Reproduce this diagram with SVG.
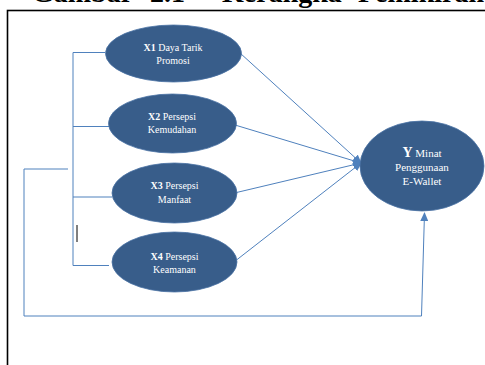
<svg xmlns="http://www.w3.org/2000/svg" width="485" height="365" viewBox="0 0 485 365">
<style>
.node{fill:#385D8A;stroke:#4A72A4;stroke-width:0.8}
.lbl{font-family:"Liberation Serif","Times New Roman",serif;font-size:10px;fill:#ffffff;text-anchor:middle}
.ylbl{font-family:"Liberation Serif","Times New Roman",serif;font-size:11px;fill:#ffffff;text-anchor:middle}
.b{font-weight:bold}
.conn{fill:none;stroke:#4F81BD;stroke-width:1}
.title{font-family:"Liberation Serif","Times New Roman",serif;font-size:28px;font-weight:bold;fill:#000000}
</style>
<defs>
<marker id="arr" markerWidth="9" markerHeight="8" refX="8" refY="4" orient="auto" markerUnits="userSpaceOnUse">
<path d="M0,0 L9,4 L0,8 Z" fill="#4F81BD"/>
</marker>
</defs>
<rect width="485" height="365" fill="#ffffff"/>
<text class="title" y="2"><tspan x="32">Gambar</tspan><tspan x="150">2.1</tspan><tspan x="222">Kerangka</tspan><tspan x="358">Pemikiran</tspan></text>
<rect x="7.5" y="10.5" width="520" height="400" fill="none" stroke="#000000" stroke-width="1.6"/>
<g id="connectors">
<polyline class="conn" points="105,52.5 73,52.5 73,265.5 109,265.5"/>
<line class="conn" x1="73" y1="126.5" x2="110" y2="126.5"/>
<line class="conn" x1="73" y1="197" x2="112" y2="197"/>
<polyline class="conn" points="68,169 24,169 24,316 421.5,316 424.5,213" marker-end="url(#arr)"/>
<line class="conn" x1="240" y1="53" x2="361" y2="163" marker-end="url(#arr)"/>
<line class="conn" x1="235" y1="125" x2="361" y2="163" marker-end="url(#arr)"/>
<line class="conn" x1="236.5" y1="192.5" x2="361" y2="163" marker-end="url(#arr)"/>
<line class="conn" x1="236.5" y1="260" x2="361" y2="163" marker-end="url(#arr)"/>
</g>
<line x1="77" y1="225" x2="77" y2="242" stroke="#000000" stroke-width="1"/>
<g id="x1">
<ellipse class="node" cx="173.5" cy="53.5" rx="68" ry="28.5"/>
<text class="lbl" x="173" y="51"><tspan class="b">X1</tspan> Daya Tarik</text>
<text class="lbl" x="173" y="64">Promosi</text>
</g>
<g id="x2">
<ellipse class="node" cx="172.5" cy="123.5" rx="64" ry="29.5"/>
<text class="lbl" x="172" y="120"><tspan class="b">X2</tspan> Persepsi</text>
<text class="lbl" x="172" y="133">Kemudahan</text>
</g>
<g id="x3">
<ellipse class="node" cx="174.5" cy="193" rx="62.5" ry="30"/>
<text class="lbl" x="174.5" y="189"><tspan class="b">X3</tspan> Persepsi</text>
<text class="lbl" x="174.5" y="203">Manfaat</text>
</g>
<g id="x4">
<ellipse class="node" cx="174.5" cy="262" rx="62.5" ry="30"/>
<text class="lbl" x="174.5" y="260"><tspan class="b">X4</tspan> Persepsi</text>
<text class="lbl" x="174.5" y="273">Keamanan</text>
</g>
<g id="y">
<ellipse class="node" cx="422" cy="166" rx="62" ry="45"/>
<text class="ylbl" x="422" y="157"><tspan class="b" font-size="14">Y</tspan> Minat</text>
<text class="ylbl" x="422" y="171">Penggunaan</text>
<text class="ylbl" x="422" y="185">E-Wallet</text>
</g>
</svg>
